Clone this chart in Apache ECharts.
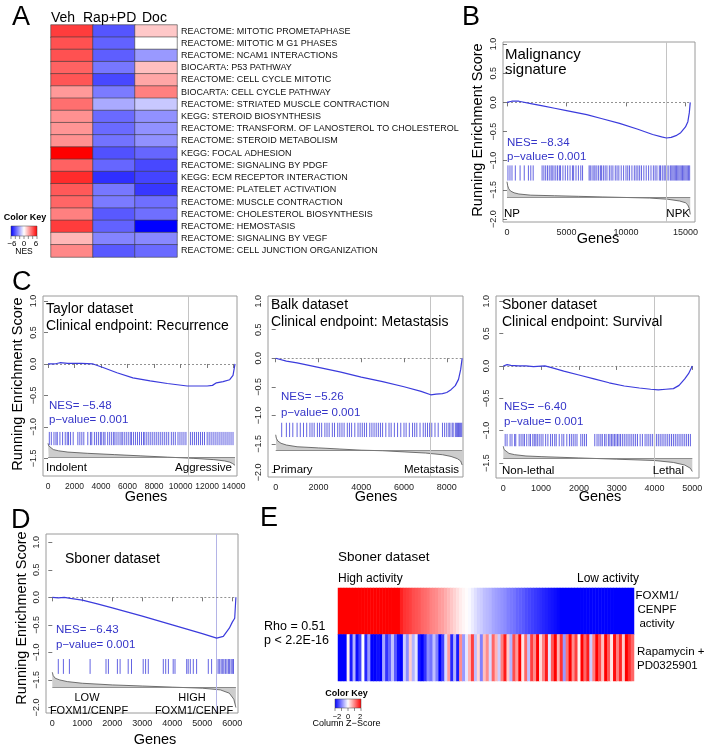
<!DOCTYPE html>
<html><head><meta charset="utf-8">
<script src="https://cdn.jsdelivr.net/npm/echarts@6/dist/echarts.min.js"></script>
<style>html,body{margin:0;padding:0;background:#fff}#c{width:705px;height:750px}</style>
</head><body><div id="c"></div>
<script>
const FONT = '"Liberation Sans", Arial, Helvetica, sans-serif';

// ---------------- Panel A data ----------------
const pathways = [
  'REACTOME: MITOTIC PROMETAPHASE','REACTOME: MITOTIC M G1 PHASES','REACTOME: NCAM1 INTERACTIONS',
  'BIOCARTA: P53 PATHWAY','REACTOME: CELL CYCLE MITOTIC','BIOCARTA: CELL CYCLE PATHWAY',
  'REACTOME: STRIATED MUSCLE CONTRACTION','KEGG: STEROID BIOSYNTHESIS',
  'REACTOME: TRANSFORM. OF LANOSTEROL TO CHOLESTEROL','REACTOME: STEROID METABOLISM',
  'KEGG: FOCAL ADHESION','REACTOME: SIGNALING BY PDGF','KEGG: ECM RECEPTOR INTERACTION',
  'REACTOME: PLATELET ACTIVATION','REACTOME: MUSCLE CONTRACTION','REACTOME: CHOLESTEROL BIOSYNTHESIS',
  'REACTOME: HEMOSTASIS','REACTOME: SIGNALING BY VEGF','REACTOME: CELL JUNCTION ORGANIZATION'];
const treatments = ['Veh', 'Rap+PD', 'Doc'];
const nesVeh   = [4.6, 4.1, 4.1, 3.7, 4.0, 2.4, 3.4, 2.6, 2.5, 2.6, 6.0, 3.7, 5.0, 3.9, 3.6, 3.0, 4.6, 1.7, 2.8];
const nesRapPD = [-4.0, -3.7, -3.8, -3.2, -4.3, -3.1, -2.0, -3.5, -3.5, -3.3, -4.1, -3.6, -4.9, -3.2, -3.1, -3.9, -3.7, -2.9, -3.9];
const nesDoc   = [1.3, 0.0, -2.4, 1.5, 2.1, 3.0, -1.3, -2.6, -2.6, -2.6, -3.6, -4.3, -4.4, -4.7, -3.4, -3.4, -6.0, -2.8, -3.5];

// ---------------- Panel B data (Malignancy signature) ----------------
const esX_B = [0, 400, 1000, 2000, 3000, 4000, 5000, 6700, 8000, 9460, 11000, 12240, 13000, 13400, 13800, 14200, 14600, 15000, 15200, 15320, 15400];
const esY_B = [0, 0.02, 0.02, -0.02, -0.06, -0.1, -0.14, -0.21, -0.28, -0.36, -0.46, -0.55, -0.59, -0.61, -0.6, -0.57, -0.52, -0.42, -0.33, -0.18, 0];
const hits_B = [80, 250, 420, 700, 1100, 1450, 1800, 2000, 2200, 2950, 3100, 3250, 3400, 3550, 3700, 3800, 3950, 4100, 4250, 4400, 4500, 4700, 4900, 5100, 5300, 5500, 5600, 5800, 6000, 6200, 6350, 6900, 7000, 7150, 7300, 7400, 7550, 7700, 7850, 7950, 8100, 8250, 8400, 8600, 8750, 8900, 9100, 9250, 9400, 9600, 9800, 10000, 10150, 10300, 10500, 10700, 10850, 11000, 11150, 11300, 11500, 11700, 11900, 12100, 12300, 12450, 12600, 12800, 12900, 13050, 13200, 13300, 13450, 13600, 13750, 13850, 13950, 14050, 14150, 14250, 14350, 14450, 14550, 14650, 14750, 14850, 14950, 15050, 15150, 15250, 15350];
const rankX_B = [0, 60, 150, 300, 600, 1000, 2000, 4000, 6000, 8000, 10000, 12000, 13500, 14500, 15000, 15200, 15320, 15400];
const rankY_B = [-1.36, -1.43, -1.48, -1.52, -1.55, -1.57, -1.59, -1.6, -1.61, -1.62, -1.63, -1.64, -1.66, -1.69, -1.72, -1.76, -1.82, -1.92];
const lead_B = 13400;

// ---------------- Panel C data ----------------
const esX_C1 = [0, 500, 900, 1500, 2500, 3400, 4200, 5200, 6400, 7700, 9000, 10500, 11500, 12000, 12400, 12700, 13200, 13700, 13950, 14100];
const esY_C1 = [0, 0, 0.02, 0.01, 0.01, 0, -0.06, -0.14, -0.22, -0.27, -0.31, -0.35, -0.35, -0.35, -0.34, -0.3, -0.28, -0.25, -0.18, 0];
const hits_C1 = [100, 250, 450, 600, 700, 900, 1100, 1300, 1450, 1550, 1700, 1900, 2250, 2400, 2550, 2700, 3000, 3200, 3300, 3500, 3650, 3800, 3950, 4050, 4200, 4300, 4500, 4650, 4800, 4950, 5050, 5200, 5350, 5500, 5600, 5750, 5900, 6050, 6200, 6300, 6450, 6600, 6750, 6900, 7050, 7200, 7300, 7450, 7600, 7750, 7900, 8050, 8200, 8350, 8500, 8650, 8800, 8950, 9100, 9300, 9450, 9600, 9800, 9950, 10100, 10250, 10400, 10600, 10750, 10900, 11050, 11200, 11350, 11500, 11650, 11800, 12000, 12150, 12300, 12450, 12600, 12750, 12900, 13050, 13200, 13350, 13500, 13650, 13800, 13950];
const rankX_C1 = [0, 50, 150, 400, 800, 1500, 3000, 5000, 7000, 9000, 11000, 12500, 13300, 13700, 13900, 14100];
const rankY_C1 = [-1.26, -1.3, -1.33, -1.36, -1.38, -1.4, -1.42, -1.44, -1.46, -1.48, -1.5, -1.52, -1.54, -1.56, -1.58, -1.61];
const lead_C1 = 10550;

const esX_C2 = [0, 500, 1000, 2000, 3000, 4000, 5000, 6000, 6800, 7250, 7500, 7800, 8000, 8200, 8400, 8550, 8650, 8720];
const esY_C2 = [0, -0.05, -0.08, -0.16, -0.24, -0.33, -0.41, -0.5, -0.58, -0.64, -0.63, -0.62, -0.6, -0.55, -0.48, -0.37, -0.2, 0];
const hits_C2 = [280, 500, 650, 800, 1000, 1150, 1300, 1450, 1600, 1700, 1800, 1950, 2050, 2150, 2300, 2400, 2500, 2650, 2750, 2900, 3000, 3100, 3200, 3350, 3450, 3550, 3700, 3850, 3950, 4050, 4150, 4250, 4400, 4500, 4600, 4700, 4800, 4900, 5000, 5150, 5300, 5400, 5550, 5700, 5850, 6000, 6100, 6250, 6400, 6500, 6600, 6750, 6900, 7000, 7100, 7200, 7300, 7450, 7600, 7800, 7900, 8000, 8100, 8150, 8250, 8300, 8400, 8450, 8500, 8550, 8600, 8650, 8700];
const rankX_C2 = [0, 30, 100, 250, 500, 1000, 2000, 3000, 4000, 5000, 6000, 7000, 7800, 8200, 8500, 8650, 8720];
const rankY_C2 = [-1.34, -1.4, -1.45, -1.49, -1.52, -1.55, -1.57, -1.59, -1.61, -1.62, -1.64, -1.66, -1.69, -1.72, -1.76, -1.8, -1.87];
const lead_C2 = 7250;

const esX_C3 = [0, 100, 200, 400, 600, 800, 1100, 1300, 1600, 2000, 2400, 2800, 3200, 3600, 3900, 4100, 4300, 4500, 4650, 4800, 4900, 5000];
const esY_C3 = [0, 0.02, 0.01, 0.0, 0.0, -0.01, 0.0, -0.03, -0.08, -0.14, -0.2, -0.26, -0.31, -0.34, -0.36, -0.37, -0.36, -0.35, -0.3, -0.2, -0.12, 0];
const hits_C3 = [50, 100, 180, 230, 300, 330, 420, 470, 520, 560, 620, 680, 720, 780, 820, 860, 900, 950, 1000, 1050, 1120, 1180, 1250, 1300, 1360, 1400, 1480, 1550, 1600, 1680, 1750, 1800, 1850, 1900, 1950, 2050, 2100, 2150, 2200, 2420, 2480, 2530, 2580, 2620, 2680, 2720, 2780, 2820, 2860, 2900, 2940, 2980, 3020, 3060, 3100, 3150, 3200, 3250, 3300, 3350, 3400, 3450, 3500, 3550, 3620, 3680, 3750, 3800, 3850, 3900, 3950, 4000, 4050, 4100, 4150, 4200, 4250, 4300, 4350, 4400, 4450, 4500, 4550, 4600, 4650, 4700, 4750, 4800, 4850, 4900, 4950];
const rankX_C3 = [0, 20, 60, 150, 300, 600, 1000, 2000, 3000, 4000, 4500, 4800, 4950, 5000];
const rankY_C3 = [-1.24, -1.29, -1.32, -1.35, -1.37, -1.39, -1.4, -1.42, -1.44, -1.46, -1.49, -1.53, -1.58, -1.63];
const lead_C3 = 4000;

// ---------------- Panel D data ----------------
const esX_D = [0, 200, 400, 600, 1000, 1500, 2000, 3000, 4000, 5000, 5480, 5700, 5900, 6000, 6080, 6120];
const esY_D = [0, -0.01, 0.0, -0.02, -0.05, -0.12, -0.19, -0.34, -0.5, -0.66, -0.74, -0.71, -0.56, -0.45, -0.38, 0];
const hits_D = [200, 370, 570, 1260, 1790, 1870, 2170, 2260, 2530, 2640, 3030, 3110, 3200, 3700, 3780, 3870, 4030, 4090, 4480, 4530, 4600, 4700, 4810, 5200, 5310, 5480, 5530, 5580, 5630, 5680, 5720, 5770, 5820, 5870, 5910, 5960, 6000, 6040];
const rankX_D = [0, 30, 100, 250, 500, 1000, 2000, 3000, 4000, 5000, 5600, 5900, 6050, 6120];
const rankY_D = [-1.36, -1.42, -1.47, -1.5, -1.53, -1.56, -1.59, -1.61, -1.63, -1.65, -1.68, -1.74, -1.85, -2.0];
const lead_D = 5480;

// ---------------- Panel E data (column z-scores) ----------------
const foxm1Activity = [3.2, 3.0, 2.9, 2.8, 2.7, 2.6, 2.5, 2.5, 2.4, 2.4, 2.3, 2.3, 2.2, 2.2, 2.2, 2.1, 2.1, 2.1, 2.0, 2.0, 2.0,
  1.75, 1.6, 1.55, 1.5, 1.4, 1.35, 1.3, 1.2, 1.15, 1.1, 1.0, 0.95, 0.9, 0.8, 0.75, 0.65, 0.55, 0.45, 0.35, 0.25, 0.15, 0.08, 0.02,
  -0.05, -0.15, -0.25, -0.35, -0.4, -0.5, -0.55, -0.6, -0.7, -0.75, -0.8, -0.85, -0.9, -1.0, -1.05, -1.1, -1.2, -1.25, -1.3, -1.4, -1.45, -1.5, -1.55, -1.6, -1.65, -1.7, -1.75, -1.8, -1.85, -1.9, -1.95,
  -2.0, -2.0, -2.05, -2.1, -2.1, -2.15, -2.2, -2.2, -2.25, -2.3, -2.3, -2.35, -2.4, -2.45, -2.5, -2.5, -2.6, -2.6, -2.7, -2.7, -2.8, -2.9, -3.0, -3.1, -3.2];
const rapaPdScore = [-2.2, -2.0, -2.1, 0.1, -1.8, -0.6, -1.9, -1.5, 0.0, -1.7,
  -0.8, -2.0, -2.1, -1.9, -2.2, -0.7, -1.6, -1.2, -0.5, -1.3,
  -1.9, -2.0, -0.4, -0.9, 0.4, -0.6, -0.2, -1.8, -2.0, -1.6,
  -0.9, -1.1, -0.5, -1.0, -2.0, -1.5, -0.3, 0.8, -1.7, -0.6,
  -1.8, 0.9, -0.8, -0.2, 0.6, 1.5, -0.5, 0.3, -1.0, 0.5,
  0.9, -0.3, 1.2, 0.6, -0.4, 1.0, 1.8, 0.4, -0.6, 1.4,
  0.8, 2.0, 0.2, 1.2, -0.5, 1.5, 0.9, 2.1, 0.3, 1.0,
  1.8, -0.2, 1.3, 2.0, 0.6, 1.6, -0.8, 1.1, 2.2, 0.9,
  1.5, 0.1, 2.0, 1.2, 1.8, -0.4, 1.0, 2.1, 1.4, 0.5,
  2.0, 1.3, 0.2, 1.9, 1.0, 1.7, 0.4, 2.2, 1.6, 1.2];
const eRows = ['FOXM1/CENPF activity', 'Rapamycin + PD0325901'];

// ---------------- build ----------------
const ES_COLOR = '#3b3bdc', NES_COLOR = '#3434c8', HIT_COLOR = 'rgba(40,40,215,0.72)';
const BWR = ['#0000ff', '#ffffff', '#ff0000'];
const grids = [], xAxes = [], yAxes = [], series = [];
const noGrid = {outerBoundsMode: 'none', containLabel: false};

// Panel A heatmap
grids.push(Object.assign({left: 51, top: 25, width: 126, height: 232}, noGrid));
xAxes.push({gridIndex: 0, type: 'category', data: treatments, show: false});
yAxes.push({gridIndex: 0, type: 'category', data: pathways, inverse: true, position: 'right',
  axisLine: {show: false}, axisTick: {show: false},
  axisLabel: {interval: 0, fontSize: 9, color: '#111', fontFamily: FONT, margin: 4}});
const aData = [];
pathways.forEach((p, r) => [nesVeh, nesRapPD, nesDoc].forEach((arr, c) => aData.push([c, r, arr[r]])));
const aIdx = series.length;
series.push({type: 'heatmap', xAxisIndex: 0, yAxisIndex: 0, data: aData,
  itemStyle: {borderColor: '#3c3c3c', borderWidth: 0.6}, emphasis: {disabled: true}});

// GSEA panels
const fmtY = v => (v < 0 ? '\u2212' : '') + Math.abs(v).toFixed(1);
const fmtX = v => String(Math.round(v));
const panels = [
  {grid: {left: 503, top: 42, width: 192, height: 180}, x: [-336, 15800], y: [-2.05, 1.035], xTicks: [0, 5000, 10000, 15000], yTicks: [-2, -1.5, -1, -0.5, 0, 0.5, 1],
   esX: esX_B, esY: esY_B, hits: hits_B, hitY: [-1.08, -1.34], rankX: rankX_B, rankY: rankY_B, base: -1.62, lead: lead_B, leadColor: '#c4c4c4', fs: 9},
  {grid: {left: 43, top: 296, width: 194, height: 180}, x: [-377, 14250], y: [-1.78, 1.08], xTicks: [0, 2000, 4000, 6000, 8000, 10000, 12000, 14000], yTicks: [-1.5, -1, -0.5, 0, 0.5, 1],
   esX: esX_C1, esY: esY_C1, hits: hits_C1, hitY: [-1.08, -1.29], rankX: rankX_C1, rankY: rankY_C1, base: -1.48, lead: lead_C1, leadColor: '#c4c4c4', fs: 8.5},
  {grid: {left: 268, top: 296, width: 195, height: 181}, x: [-360, 8760], y: [-2.08, 1.09], xTicks: [0, 2000, 4000, 6000, 8000], yTicks: [-2, -1.5, -1, -0.5, 0, 0.5, 1],
   esX: esX_C2, esY: esY_C2, hits: hits_C2, hitY: [-1.13, -1.38], rankX: rankX_C2, rankY: rankY_C2, base: -1.62, lead: lead_C2, leadColor: '#c4c4c4', fs: 9},
  {grid: {left: 496, top: 296, width: 203, height: 182}, x: [-193, 5177], y: [-1.73, 1.08], xTicks: [0, 1000, 2000, 3000, 4000, 5000], yTicks: [-1.5, -1, -0.5, 0, 0.5, 1],
   esX: esX_C3, esY: esY_C3, hits: hits_C3, hitY: [-1.05, -1.24], rankX: rankX_C3, rankY: rankY_C3, base: -1.43, lead: lead_C3, leadColor: '#c4c4c4', fs: 9},
  {grid: {left: 46, top: 534, width: 192, height: 179}, x: [-210, 6190], y: [-2.1, 1.15], xTicks: [0, 1000, 2000, 3000, 4000, 5000, 6000], yTicks: [-2, -1.5, -1, -0.5, 0, 0.5, 1],
   esX: esX_D, esY: esY_D, hits: hits_D, hitY: [-1.12, -1.39], rankX: rankX_D, rankY: rankY_D, base: -1.63, lead: lead_D, leadColor: '#b4b4e6', fs: 9}
];

function hitRenderer(params, api) {
  const a = api.coord([api.value(0), api.value(1)]);
  const b = api.coord([api.value(0), api.value(2)]);
  return {type: 'line', shape: {x1: a[0], y1: a[1], x2: b[0], y2: b[1]}, style: {stroke: HIT_COLOR, lineWidth: 1}};
}

panels.forEach(p => {
  const gi = grids.length;
  grids.push(Object.assign({show: true, borderColor: '#9a9a9a', borderWidth: 1, backgroundColor: 'transparent'}, p.grid, noGrid));
  xAxes.push({gridIndex: gi, type: 'value', min: p.x[0], max: p.x[1],
    axisLine: {show: false}, splitLine: {show: false},
    axisTick: {show: true, length: 4, lineStyle: {color: '#555', width: 0.8}, customValues: p.xTicks},
    axisLabel: {customValues: p.xTicks, formatter: fmtX, hideOverlap: false, fontSize: p.fs, color: '#222', fontFamily: FONT, margin: 6}});
  yAxes.push({gridIndex: gi, type: 'value', min: p.y[0], max: p.y[1],
    axisLine: {show: false}, splitLine: {show: false},
    axisTick: {show: true, length: 4, lineStyle: {color: '#555', width: 0.8}, customValues: p.yTicks},
    axisLabel: {customValues: p.yTicks, rotate: 90, formatter: fmtY, fontSize: 9, color: '#222', fontFamily: FONT, margin: 5}});
  const end = p.esX[p.esX.length - 1];
  // ranked list metric
  series.push({type: 'line', xAxisIndex: gi, yAxisIndex: gi, symbol: 'none', z: 2,
    data: p.rankX.map((x, k) => [x, p.rankY[k]]),
    lineStyle: {color: '#505050', width: 0.8},
    areaStyle: {color: '#cdcdcd', opacity: 1, origin: p.base},
    markLine: {symbol: ['none', 'none'], silent: true, label: {show: false}, animation: false,
      lineStyle: {color: '#777', width: 0.8, type: 'solid'},
      data: [[{coord: [p.rankX[0], p.base]}, {coord: [end, p.base]}]]}});
  // hits
  series.push({type: 'custom', xAxisIndex: gi, yAxisIndex: gi, z: 3, renderItem: hitRenderer,
    encode: {x: 0, y: [1, 2]}, data: p.hits.map(h => [h, p.hitY[0], p.hitY[1]])});
  // running enrichment score
  series.push({type: 'line', xAxisIndex: gi, yAxisIndex: gi, symbol: 'none', z: 5,
    data: p.esX.map((x, k) => [x, p.esY[k]]),
    lineStyle: {color: ES_COLOR, width: 1.2},
    markLine: {symbol: ['none', 'none'], silent: true, label: {show: false}, animation: false,
      data: [
        {xAxis: p.lead, lineStyle: {color: p.leadColor, width: 1, type: 'solid'}},
        [{coord: [0, 0], lineStyle: {color: '#777', width: 0.8, type: [2, 2]}}, {coord: [end, 0]}]
      ]}});
});

// Panel E heatmap
const eGi = grids.length;
grids.push(Object.assign({left: 338, top: 588, width: 296, height: 93}, noGrid));
xAxes.push({gridIndex: eGi, type: 'category', data: foxm1Activity.map((v, i) => 'S' + (i + 1)), show: false});
yAxes.push({gridIndex: eGi, type: 'category', data: eRows, inverse: true, show: false});
const clamp2 = v => Math.max(-2, Math.min(2, v));
const eData = foxm1Activity.map((v, i) => [i, 0, clamp2(v)]).concat(rapaPdScore.map((v, i) => [i, 1, clamp2(v)]));
const eIdx = series.length;
series.push({type: 'heatmap', xAxisIndex: eGi, yAxisIndex: eGi, data: eData, emphasis: {disabled: true}});

// ---------------- text & keys ----------------
function T(x, y, s, size, o) {
  o = o || {};
  return {type: 'text', x: x, y: y, rotation: o.rot || 0, z: 100, silent: true,
    style: {text: s, font: (o.bold ? 'bold ' : '') + size + 'px ' + FONT, fill: o.color || '#000',
      align: o.align || 'left', verticalAlign: 'middle', textAlign: o.align || 'left', textVerticalAlign: 'middle'}};
}
const R90 = Math.PI / 2;
const g = [];
g.push(T(12, 18, 'A', 27), T(462, 18, 'B', 27), T(12, 283, 'C', 27), T(11, 521, 'D', 27), T(260, 519, 'E', 27));
const colLabelX = [51, 83, 142];
treatments.forEach((t, i) => g.push(T(colLabelX[i], 18, t, 14)));
function colorKey(x, y, w, h, ticks, lo, hi) {
  const out = [{type: 'rect', shape: {x: x, y: y, width: w, height: h}, z: 100, silent: true,
    style: {fill: new echarts.graphic.LinearGradient(0, 0, 1, 0, [{offset: 0, color: BWR[0]}, {offset: 0.5, color: BWR[1]}, {offset: 1, color: BWR[2]}]), stroke: '#444', lineWidth: 0.5}}];
  ticks.forEach(t => {
    const tx = x + (t - lo) / (hi - lo) * w;
    out.push({type: 'line', z: 100, silent: true, shape: {x1: tx, y1: y + h, x2: tx, y2: y + h + 3}, style: {stroke: '#444', lineWidth: 0.6}});
  });
  return out;
}
g.push(...colorKey(11, 226, 26, 10, [-6, -4, -2, 0, 2, 4, 6], -6, 6));
g.push(T(25, 218, 'Color Key', 9, {bold: true, align: 'center'}));
g.push(T(12, 244, '\u22126', 8, {align: 'center'}), T(24, 244, '0', 8, {align: 'center'}), T(36, 244, '6', 8, {align: 'center'}));
g.push(T(24, 252, 'NES', 8.5, {align: 'center'}));

g.push(T(478, 130, 'Running Enrichment Score', 14.5, {rot: R90, align: 'center'}));
g.push(T(598, 239, 'Genes', 14.5, {align: 'center'}));
g.push(T(505, 55, 'Malignancy', 15), T(505, 70, 'signature', 15));
g.push(T(507, 143, 'NES= \u22128.34', 11.5, {color: NES_COLOR}), T(507, 157, 'p\u2212value= 0.001', 11.5, {color: NES_COLOR}));
g.push(T(504, 214, 'NP', 11.5), T(690, 214, 'NPK', 11.5, {align: 'right'}));

g.push(T(18, 384, 'Running Enrichment Score', 14.5, {rot: R90, align: 'center'}));
g.push(T(146, 497, 'Genes', 14.5, {align: 'center'}), T(376, 497, 'Genes', 14.5, {align: 'center'}), T(600, 497, 'Genes', 14.5, {align: 'center'}));
g.push(T(46, 309, 'Taylor dataset', 14), T(46, 326, 'Clinical endpoint: Recurrence', 14));
g.push(T(271, 305, 'Balk dataset', 14), T(271, 322, 'Clinical endpoint: Metastasis', 14));
g.push(T(502, 305, 'Sboner dataset', 14), T(502, 322, 'Clinical endpoint: Survival', 14));
g.push(T(49, 406, 'NES= \u22125.48', 11.5, {color: NES_COLOR}), T(49, 420, 'p\u2212value= 0.001', 11.5, {color: NES_COLOR}));
g.push(T(281, 397, 'NES= \u22125.26', 11.5, {color: NES_COLOR}), T(281, 413, 'p\u2212value= 0.001', 11.5, {color: NES_COLOR}));
g.push(T(504, 407, 'NES= \u22126.40', 11.5, {color: NES_COLOR}), T(504, 422, 'p\u2212value= 0.001', 11.5, {color: NES_COLOR}));
g.push(T(46, 468, 'Indolent', 11.5), T(232, 468, 'Aggressive', 11.5, {align: 'right'}));
g.push(T(273, 470, 'Primary', 11.5), T(459, 470, 'Metastasis', 11.5, {align: 'right'}));
g.push(T(502, 471, 'Non-lethal', 11.5), T(684, 471, 'Lethal', 11.5, {align: 'right'}));

g.push(T(22, 618, 'Running Enrichment Score', 14.5, {rot: R90, align: 'center'}));
g.push(T(155, 740, 'Genes', 14.5, {align: 'center'}));
g.push(T(65, 559, 'Sboner dataset', 14));
g.push(T(56, 630, 'NES= \u22126.43', 11.5, {color: NES_COLOR}), T(56, 645, 'p\u2212value= 0.001', 11.5, {color: NES_COLOR}));
g.push(T(87, 698, 'LOW', 11, {align: 'center'}), T(89, 711, 'FOXM1/CENPF', 11, {align: 'center'}));
g.push(T(192, 698, 'HIGH', 11, {align: 'center'}), T(194, 711, 'FOXM1/CENPF', 11, {align: 'center'}));

g.push(T(338, 557, 'Sboner dataset', 13.5));
g.push(T(338, 579, 'High activity', 12), T(639, 579, 'Low activity', 12, {align: 'right'}));
g.push(T(657, 596, 'FOXM1/', 11.5, {align: 'center'}), T(657, 610, 'CENPF', 11.5, {align: 'center'}), T(657, 624, 'activity', 11.5, {align: 'center'}));
g.push(T(637, 652, 'Rapamycin +', 11.5), T(637, 666, 'PD0325901', 11.5));
g.push(T(264, 627, 'Rho = 0.51', 12.5), T(264, 641, 'p < 2.2E-16', 12.5));
g.push(...colorKey(335, 699, 26, 9, [-2, -1, 0, 1, 2], -2, 2));
g.push(T(346.5, 694, 'Color Key', 9, {bold: true, align: 'center'}));
g.push(T(337, 717, '\u22122', 7.5, {align: 'center'}), T(348, 717, '0', 7.5, {align: 'center'}), T(360, 717, '2', 7.5, {align: 'center'}));
g.push(T(346.5, 724, 'Column Z\u2212Score', 9, {align: 'center'}));

const chart = echarts.init(document.getElementById('c'), null, {renderer: 'canvas'});
chart.setOption({
  animation: false,
  backgroundColor: '#fff',
  textStyle: {fontFamily: FONT},
  grid: grids, xAxis: xAxes, yAxis: yAxes,
  visualMap: [
    {type: 'continuous', show: false, seriesIndex: aIdx, dimension: 2, min: -6, max: 6, inRange: {color: BWR}},
    {type: 'continuous', show: false, seriesIndex: eIdx, dimension: 2, min: -2, max: 2, inRange: {color: BWR}}
  ],
  series: series,
  graphic: g
});
</script></body></html>
